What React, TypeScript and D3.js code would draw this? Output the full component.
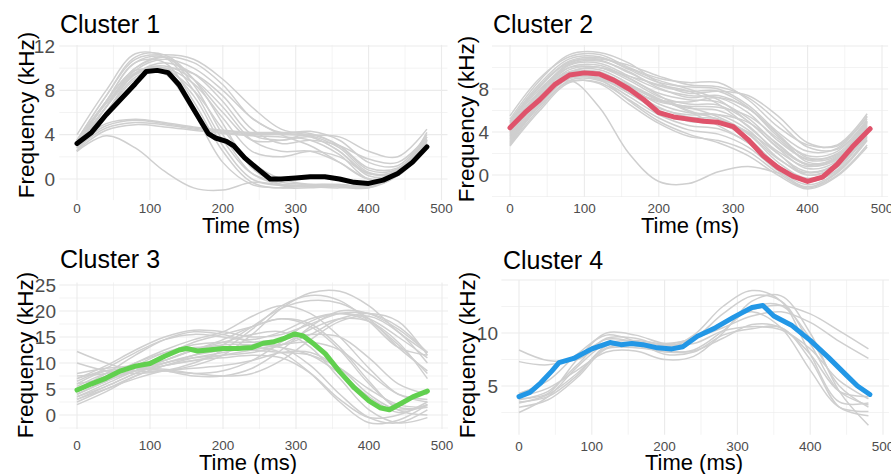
import React from "react";
import * as d3 from "d3";

// ---------- DATA ----------
const TIME_GRID = [0, 40, 80, 120, 160, 200, 240, 280, 320, 360, 400, 440, 480];
const X_TICKS = [0, 100, 200, 300, 400, 500];
const PANEL_TITLES = ["Cluster 1", "Cluster 2", "Cluster 3", "Cluster 4"];
const MEAN_COLORS = ["#000000", "#DF536B", "#61D04F", "#2297E6"];
const Y_TICKS = [[0, 4, 8, 12], [0, 4, 8], [0, 5, 10, 15, 20, 25], [5, 10]];

// Cluster 1
const c1Gray = [
  [3, 7, 10.5, 10.5, 7, 2.5, -0.3, -0.8, -0.5, -0.5, -0.6, 0.5, 3.5],
  [2.5, 6.5, 10, 11, 8.5, 4, 0.5, -0.5, -0.6, -0.7, -0.8, 0.5, 3],
  [3.5, 7.5, 11, 11.2, 9, 5, 1, -0.5, -0.7, -0.6, -0.5, 0.8, 3.8],
  [2.8, 6, 9.5, 10, 7.5, 3, 0, -0.6, -0.7, -0.8, -0.6, 0.6, 3.2],
  [3.2, 7, 9.8, 9.5, 6, 1.5, -0.5, -0.8, -0.8, -0.6, -0.5, 0.7, 3.5],
  [4, 8, 11.3, 11, 8, 3.5, 0.5, -0.3, -0.5, -0.5, -0.7, 0.4, 4.2],
  [2.5, 6, 9.2, 9.8, 8, 4.5, 1.5, 0, -0.5, -0.6, -0.8, 0.3, 2.8],
  [3, 6.5, 9.5, 10.5, 9.5, 7, 4, 3.5, 3.8, 2.5, 0.5, 0.8, 3.5],
  [3.5, 7, 10, 11, 10.5, 8.5, 5.5, 4.2, 4.3, 3.5, 1.5, 1.2, 4],
  [2.8, 6.5, 9.8, 10.8, 10, 8, 5.5, 4, 3, 1.5, 0, 0.5, 3],
  [3, 7, 10.5, 11, 9, 6, 3.5, 3.5, 4, 3, 1, 1, 3.5],
  [3.5, 7.5, 10.8, 11.2, 10.8, 9, 6.5, 4.5, 4, 3.8, 2.5, 2, 4.5],
  [2.5, 6, 9, 10, 9.5, 7.5, 4.5, 3.2, 3.5, 3, 1.8, 1.5, 3.8],
  [3.2, 6.8, 9.6, 10.2, 9, 6.5, 3.5, 2.5, 2.5, 1.5, 0, 0.3, 3],
  [3, 6.5, 9.4, 10, 8.6, 5.5, 2.5, 2, 2.5, 2, 0.5, 0.5, 3.2],
  [2.8, 4.6, 5.1, 4.9, 4.5, 4.2, 4.0, 4.0, 3.8, 2.5, 0.3, 0.5, 3.4],
  [3.0, 4.8, 5.3, 5.0, 4.6, 4.3, 4.1, 4.1, 3.9, 2.8, 0.6, 0.7, 3.6],
  [2.6, 4.4, 4.9, 4.7, 4.4, 4.1, 3.9, 3.8, 3.5, 2.2, 0.0, 0.3, 3.2],
  [3.2, 5.0, 5.4, 5.1, 4.7, 4.4, 4.2, 4.2, 4.1, 3.0, 0.8, 0.9, 3.8],
  [2.5, 3.9, 2.8, 0.7, -0.8, -1.0, -0.3, -0.5, -0.6, -0.6, -0.7, 0.4, 3],
];
const c1MeanT = [0, 20, 40, 60, 80, 95, 110, 125, 140, 160, 180, 190, 205, 215, 230, 250, 265, 280, 300, 320, 340, 360, 380, 400, 420, 440, 460, 480];
const c1MeanF = [3.2, 4.2, 5.8, 7.2, 8.6, 9.7, 9.8, 9.6, 8.5, 6.3, 4.1, 3.7, 3.4, 3.0, 1.9, 0.8, 0.0, 0.0, 0.1, 0.2, 0.2, 0.0, -0.3, -0.4, -0.1, 0.5, 1.5, 2.9];

// Cluster 2
const c2Gray = [
  [5.5, 9.0, 11.0, 11.2, 10.0, 9.0, 8.6, 8.6, 7.0, 4.5, 2.8, 2.8, 5.7],
  [5.0, 8.5, 10.8, 11.0, 9.8, 8.6, 8.2, 8.0, 6.5, 4.0, 2.2, 2.5, 5.4],
  [4.8, 8.2, 10.5, 10.7, 9.5, 8.3, 7.8, 7.8, 6.3, 3.6, 1.8, 2.2, 5.2],
  [4.5, 7.8, 10.2, 10.4, 9.2, 8.0, 7.4, 7.2, 5.8, 3.2, 1.5, 2.0, 5.0],
  [4.3, 7.6, 10.0, 10.2, 9.0, 7.6, 7.0, 6.8, 5.3, 2.8, 1.0, 1.6, 4.8],
  [4.0, 7.4, 9.8, 10.0, 8.8, 7.3, 6.6, 6.5, 5.0, 2.5, 0.6, 1.3, 4.6],
  [3.8, 7.2, 9.6, 9.8, 8.5, 7.0, 6.2, 6.0, 4.6, 2.0, 0.3, 1.1, 4.4],
  [3.5, 7.0, 9.4, 9.6, 8.2, 6.6, 5.8, 5.6, 4.2, 1.6, 0.0, 0.9, 4.2],
  [3.3, 6.8, 9.2, 9.4, 8.0, 6.3, 5.4, 5.2, 3.8, 1.2, -0.3, 0.7, 4.0],
  [3.0, 6.5, 9.0, 9.1, 7.6, 6.0, 5.0, 4.8, 3.4, 0.9, -0.6, 0.5, 3.8],
  [2.8, 6.2, 8.8, 8.8, 7.3, 5.6, 4.6, 4.3, 3.0, 0.6, -0.9, 0.3, 3.5],
  [2.7, 6.0, 8.6, 8.6, 7.0, 5.3, 4.2, 3.8, 2.6, 0.4, -1.1, 0.2, 3.2],
  [3.1, 6.4, 8.7, 8.5, 6.6, 4.8, 3.6, 3.2, 2.2, 0.2, -1.2, 0.0, 2.8],
  [3.6, 7.0, 9.2, 8.9, 6.9, 5.0, 3.8, 3.0, 1.8, 0.0, -1.3, -0.1, 2.6],
  [4.2, 7.8, 10.4, 10.8, 10.2, 9.2, 8.4, 8.2, 7.2, 5.0, 2.6, 2.4, 5.0],
  [5.2, 8.8, 11.2, 11.4, 10.4, 8.6, 7.6, 7.8, 7.4, 5.5, 3.0, 2.7, 5.5],
  [4.6, 8.0, 10.0, 10.0, 9.2, 8.4, 7.8, 6.6, 4.5, 2.2, 0.8, 1.6, 4.7],
  [3.9, 7.5, 10.3, 10.6, 9.6, 8.1, 7.2, 7.4, 6.2, 3.8, 1.2, 1.5, 4.3],
  [4.4, 7.7, 9.6, 9.3, 8.0, 6.8, 6.4, 6.3, 5.5, 3.4, 1.4, 1.8, 4.9],
  [3.4, 6.7, 9.0, 8.9, 7.8, 6.9, 6.3, 5.4, 3.9, 1.5, 0.2, 1.0, 3.9],
  [2.9, 6.6, 9.5, 10.0, 9.0, 7.4, 6.0, 5.2, 4.0, 2.0, 0.0, 0.8, 3.6],
  [4.9, 8.3, 10.6, 10.9, 9.9, 8.8, 8.0, 7.0, 5.0, 2.6, 1.0, 1.7, 4.9],
  [3.7, 7.1, 9.5, 9.5, 8.3, 7.0, 6.8, 7.2, 6.2, 3.8, 1.6, 1.9, 4.5],
  [4.1, 7.3, 9.2, 9.0, 7.6, 6.2, 5.6, 5.6, 4.9, 2.9, 0.9, 1.4, 4.1],
  [3.2, 6.6, 9.1, 9.3, 8.4, 7.1, 5.9, 4.6, 3.0, 0.9, -0.6, 0.4, 3.3],
  [4.0, 7.0, 8.8, 6.3, 2.0, -0.6, -0.8, 0.3, 0.8, 0.2, -0.5, 0.8, 3.8],
];
const c2MeanT = [0, 20, 40, 60, 80, 100, 120, 140, 160, 180, 200, 220, 240, 260, 280, 300, 320, 340, 360, 380, 400, 420, 440, 460, 484];
const c2MeanF = [4.4, 5.8, 7.0, 8.4, 9.3, 9.5, 9.4, 8.8, 8.0, 7.0, 5.8, 5.4, 5.2, 5.0, 4.9, 4.5, 3.3, 1.8, 0.7, -0.1, -0.6, -0.2, 1.0, 2.6, 4.3];

// Cluster 3
const c3Gray = [
  [12.2, 10.0, 8.5, 8.5, 9.5, 11.5, 15.5, 20.5, 23.5, 23.8, 21.0, 16.0, 12.0],
  [10.0, 8.5, 8.0, 8.5, 10.0, 12.5, 16.5, 21.0, 23.0, 22.0, 18.0, 13.0, 11.5],
  [7.5, 8.0, 9.0, 10.0, 11.5, 13.5, 17.0, 20.5, 22.0, 21.5, 18.5, 13.0, 8.5],
  [7.0, 9.5, 12.5, 15.0, 16.3, 16.0, 15.0, 15.5, 17.5, 19.5, 19.5, 17.0, 12.0],
  [6.5, 9.0, 12.0, 14.5, 15.5, 15.0, 14.5, 16.0, 18.5, 19.5, 18.0, 13.5, 8.0],
  [5.0, 8.0, 11.5, 14.5, 16.0, 15.5, 14.0, 13.5, 15.5, 18.5, 19.5, 18.0, 11.5],
  [4.5, 7.0, 10.0, 12.5, 14.5, 16.0, 19.0, 21.0, 19.5, 15.0, 9.0, 4.0, 2.5],
  [4.0, 6.5, 9.0, 11.5, 14.0, 15.5, 17.0, 18.5, 17.5, 13.0, 6.5, 1.0, 0.0],
  [3.5, 6.0, 8.5, 10.5, 12.5, 14.0, 15.5, 16.0, 13.0, 7.0, 1.0, -1.5, -0.5],
  [3.0, 5.5, 8.0, 10.0, 11.5, 12.5, 13.5, 13.0, 9.5, 4.0, -0.5, -1.5, 1.0],
  [2.5, 5.0, 7.5, 9.5, 11.0, 12.0, 13.0, 12.0, 8.0, 2.5, -1.5, -1.0, 2.0],
  [2.0, 4.5, 7.5, 9.5, 10.5, 11.0, 11.5, 11.0, 8.0, 3.0, -0.5, 0.0, 2.5],
  [6.0, 8.5, 9.0, 8.5, 8.0, 8.5, 10.5, 14.0, 18.0, 19.5, 18.5, 15.0, 11.0],
  [7.0, 8.5, 9.0, 8.5, 7.5, 7.5, 9.0, 12.5, 17.0, 20.0, 19.5, 16.5, 12.0],
  [5.5, 8.0, 9.0, 8.8, 8.0, 7.5, 8.0, 10.5, 14.5, 18.0, 19.0, 16.0, 10.0],
  [4.0, 6.5, 8.5, 9.5, 10.5, 11.5, 12.5, 13.5, 14.0, 12.5, 8.0, 4.0, 3.0],
  [3.0, 5.0, 7.0, 8.5, 9.0, 9.5, 10.5, 12.0, 12.0, 9.0, 4.0, 1.0, 2.0],
  [5.0, 7.5, 10.0, 12.0, 13.0, 13.0, 12.5, 12.0, 11.5, 9.0, 5.0, 2.0, 1.5],
  [8.0, 9.0, 9.5, 10.5, 12.5, 14.5, 17.0, 18.5, 17.0, 12.5, 6.0, 1.5, 1.5],
  [6.0, 7.0, 8.5, 10.5, 12.5, 13.5, 13.5, 13.0, 11.5, 8.0, 3.5, 0.5, 2.0],
  [3.5, 5.5, 8.0, 10.0, 11.0, 11.5, 12.0, 13.5, 16.5, 18.5, 18.0, 14.0, 7.0],
  [4.5, 7.0, 9.5, 12.0, 13.5, 14.0, 14.0, 14.5, 15.5, 15.0, 11.0, 6.0, 4.0],
];
const c3MeanT = [0, 20, 40, 60, 80, 100, 120, 140, 150, 165, 180, 200, 220, 240, 255, 270, 285, 298, 310, 325, 340, 360, 380, 400, 415, 428, 445, 460, 480];
const c3MeanF = [4.8, 6.0, 7.1, 8.5, 9.4, 9.9, 11.3, 12.5, 12.8, 12.3, 12.5, 12.8, 12.8, 13.0, 13.8, 14.1, 14.8, 15.6, 15.2, 13.6, 11.8, 8.3, 5.2, 2.7, 1.4, 1.0, 2.3, 3.5, 4.6];

// Cluster 4
const c4Gray = [
  [8.4, 7.4, 7.5, 9.0, 8.8, 8.6, 9.6, 11.0, 12.2, 12.6, 11.8, 10.2, 8.5],
  [7.3, 7.0, 7.8, 9.4, 9.2, 8.9, 9.5, 10.5, 11.6, 12.0, 11.0, 9.2, 7.6],
  [3.7, 4.5, 7.0, 9.5, 9.5, 8.8, 9.5, 11.8, 13.5, 13.0, 9.0, 4.5, 3.2],
  [3.5, 4.0, 6.0, 8.8, 9.0, 8.5, 9.8, 12.5, 14.0, 13.0, 8.0, 3.5, 3.4],
  [2.5, 4.0, 6.8, 9.0, 9.3, 9.0, 9.5, 11.0, 12.0, 10.5, 6.5, 3.0, 2.6],
  [3.0, 3.7, 5.8, 8.5, 8.6, 8.3, 8.3, 9.5, 10.8, 10.5, 8.0, 4.5, 4.0],
  [4.3, 5.5, 8.0, 9.8, 9.2, 8.0, 8.2, 9.8, 10.4, 10.5, 7.5, 3.0, 2.2],
  [3.8, 4.3, 7.5, 10.0, 9.8, 9.0, 9.0, 10.2, 10.6, 10.3, 8.5, 5.5, 3.8],
  [4.0, 4.8, 6.5, 8.2, 8.3, 7.5, 7.8, 10.0, 13.0, 13.5, 10.0, 4.5, 1.3],
  [3.4, 4.2, 6.2, 8.6, 8.8, 8.2, 8.4, 10.2, 12.4, 12.6, 9.5, 5.0, 3.0],
];
const c4MeanT = [0, 15, 30, 45, 55, 75, 100, 125, 140, 155, 170, 190, 210, 225, 245, 270, 295, 320, 335, 350, 375, 400, 425, 450, 465, 482];
const c4MeanF = [4.0, 4.4, 5.3, 6.4, 7.2, 7.6, 8.5, 9.1, 8.9, 9.0, 8.9, 8.6, 8.5, 8.7, 9.7, 10.5, 11.5, 12.4, 12.6, 11.6, 10.7, 9.3, 7.7, 6.0, 5.0, 4.2];

// ---------- LAYOUT ----------
const LAYOUT = [
  { xr: [77, 441.5], yd: [0, 12], yr: [179, 46], ext: [-1.9, 12.1], yMajor: [0, 4, 8, 12], yMinor: [-2, 2, 6, 10],
    title: [60, 33], labX: 55, xLabY: 213, yTitle: [34, 115], xTitle: [251, 233] },
  { xr: [510, 882], yd: [0, 8], yr: [175, 89], ext: [-2.05, 12.1], yMajor: [0, 4, 8, 12], yMinor: [-2, 2, 6, 10],
    title: [493, 33], labX: 489, xLabY: 213, yTitle: [474, 119], xTitle: [690, 233] },
  { xr: [77, 442], yd: [0, 25], yr: [415, 285], ext: [-2.7, 25.5], yMajor: [0, 5, 10, 15, 20, 25], yMinor: [-2.5, 2.5, 7.5, 12.5, 17.5, 22.5],
    title: [60, 268], labX: 56, xLabY: 450, yTitle: [33, 355], xTitle: [248, 470] },
  { xr: [519, 883], yd: [5, 10], yr: [386, 333], ext: [0.4, 15.0], yMajor: [5, 10, 15], yMinor: [2.5, 7.5, 12.5],
    title: [503, 269], labX: 498, xLabY: 451, yTitle: [475, 355], xTitle: [694, 470] },
];

const GRAYS = [c1Gray, c2Gray, c3Gray, c4Gray];
const MEAN_T = [c1MeanT, c2MeanT, c3MeanT, c4MeanT];
const MEAN_F = [c1MeanF, c2MeanF, c3MeanF, c4MeanF];

const FONT = "'Liberation Sans', Arial, sans-serif";
const GRID = "#EBEBEB";

function Panel({ i }: { i: number }) {
  const L = LAYOUT[i];
  const x = d3.scaleLinear().domain([0, 500]).range(L.xr);
  const y = d3.scaleLinear().domain(L.yd).range(L.yr);
  const x0 = x(-24.2), x1 = x(508.2);
  const yTop = y(L.ext[1]), yBot = y(L.ext[0]);
  const inY = (v: number) => v >= L.ext[0] - 1e-9 && v <= L.ext[1] + 1e-9;

  const grayLine = d3.line<number>()
    .x((_, j) => x(TIME_GRID[j]))
    .y((v) => y(v))
    .curve(d3.curveCatmullRom.alpha(0.5));
  const meanLine = d3.line<number>()
    .x((_, j) => x(MEAN_T[i][j]))
    .y((v) => y(v));

  const xMinor = [50, 150, 250, 350, 450];
  return (
    <g>
      {L.yMinor.filter(inY).map((v) => (
        <line key={"ym" + v} x1={x0} x2={x1} y1={y(v)} y2={y(v)} stroke={GRID} strokeWidth={0.6} />
      ))}
      {xMinor.map((v) => (
        <line key={"xm" + v} x1={x(v)} x2={x(v)} y1={yTop} y2={yBot} stroke={GRID} strokeWidth={0.6} />
      ))}
      {L.yMajor.filter(inY).map((v) => (
        <line key={"yM" + v} x1={x0} x2={x1} y1={y(v)} y2={y(v)} stroke={GRID} strokeWidth={1.1} />
      ))}
      {X_TICKS.map((v) => (
        <line key={"xM" + v} x1={x(v)} x2={x(v)} y1={yTop} y2={yBot} stroke={GRID} strokeWidth={1.1} />
      ))}
      {GRAYS[i].map((arr, k) => (
        <path key={"g" + k} d={grayLine(arr) || ""} fill="none" stroke="#CFCFCF" strokeWidth={1.5} />
      ))}
      <path d={meanLine(MEAN_F[i]) || ""} fill="none" stroke={MEAN_COLORS[i]} strokeWidth={5}
        strokeLinejoin="round" strokeLinecap="round" />
      {X_TICKS.map((v) => (
        <text key={"xl" + v} x={x(v)} y={L.xLabY} textAnchor="middle" fontSize={13.5} fill="#4D4D4D" fontFamily={FONT}>{v}</text>
      ))}
      {Y_TICKS[i].map((v) => (
        <text key={"yl" + v} x={L.labX} y={y(v)} dy="0.35em" textAnchor="end" fontSize={19} fill="#4D4D4D" fontFamily={FONT}>{v}</text>
      ))}
      <text x={L.title[0]} y={L.title[1]} fontSize={25} fill="#000" fontFamily={FONT}>{PANEL_TITLES[i]}</text>
      <text x={L.xTitle[0]} y={L.xTitle[1]} textAnchor="middle" fontSize={22} fill="#000" fontFamily={FONT}>Time (ms)</text>
      <text transform={`translate(${L.yTitle[0]},${L.yTitle[1]}) rotate(-90)`} textAnchor="middle" fontSize={22.5} fill="#000" fontFamily={FONT}>Frequency (kHz)</text>
    </g>
  );
}

export default function App() {
  return (
    <svg width={891} height={474} style={{ position: "absolute", left: 0, top: 0, background: "#fff" }}>
      <rect width={891} height={474} fill="#fff" />
      {[0, 1, 2, 3].map((i) => <Panel key={i} i={i} />)}
    </svg>
  );
}
